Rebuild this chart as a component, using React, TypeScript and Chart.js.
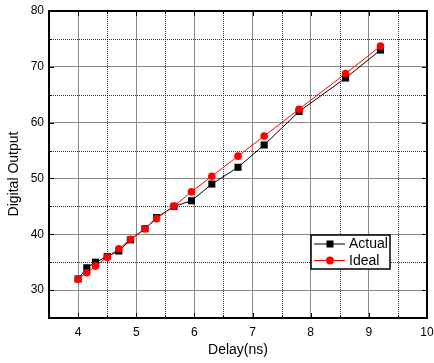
import React, { useEffect, useRef } from "react";
import { Chart, registerables } from "chart.js";

Chart.register(...registerables);

const delays = [4.0, 4.15, 4.3, 4.5, 4.7, 4.9, 5.15, 5.35, 5.65, 5.95, 6.3, 6.75, 7.2, 7.8, 8.6, 9.2];
const actual = [32, 34, 35, 36, 37, 39, 41, 43, 45, 46, 49, 52, 56, 62, 68, 73];
const ideal = [32, 33.1, 34.3, 35.9, 37.4, 39.1, 41.0, 42.8, 45.05, 47.6, 50.4, 54.0, 57.6, 62.4, 68.8, 73.7];

const xMajorTicks = [4, 5, 6, 7, 8, 9, 10];
const xMinorTicks = [4.5, 5.5, 6.5, 7.5, 8.5, 9.5];
const yMajorTicks = [30, 40, 50, 60, 70, 80];
const yMinorTicks = [35, 45, 55, 65, 75];

const xTitle = "Delay(ns)";
const yTitle = "Digital Output";
const seriesNames = ["Actual", "Ideal"];

const FONT = "'Liberation Sans', Arial, sans-serif";

const decorPlugin = {
  id: "decor",
  beforeDatasetsDraw(chart: any) {
    const { ctx, chartArea: a, scales } = chart;
    const xs = scales.x;
    const ys = scales.y;
    ctx.save();
    ctx.strokeStyle = "#333";
    ctx.lineWidth = 1;
    ctx.setLineDash([1, 1]);
    xMinorTicks.forEach((v) => {
      const px = Math.round(xs.getPixelForValue(v)) + 0.5;
      ctx.beginPath();
      ctx.moveTo(px, a.top);
      ctx.lineTo(px, a.bottom);
      ctx.stroke();
    });
    yMinorTicks.forEach((v) => {
      const py = Math.round(ys.getPixelForValue(v)) + 0.5;
      ctx.beginPath();
      ctx.moveTo(a.left, py);
      ctx.lineTo(a.right, py);
      ctx.stroke();
    });
    ctx.restore();
  },
  afterDraw(chart: any) {
    const { ctx, chartArea: a, scales } = chart;
    const xs = scales.x;
    const ys = scales.y;
    ctx.save();
    ctx.strokeStyle = "#000";
    ctx.lineWidth = 1;
    const tick = (vals: number[], len: number) => {
      vals.forEach((v) => {
        const px = Math.round(xs.getPixelForValue(v)) + 0.5;
        ctx.beginPath();
        ctx.moveTo(px, a.bottom);
        ctx.lineTo(px, a.bottom - len);
        ctx.moveTo(px, a.top);
        ctx.lineTo(px, a.top + len);
        ctx.stroke();
      });
    };
    const tickY = (vals: number[], len: number) => {
      vals.forEach((v) => {
        const py = Math.round(ys.getPixelForValue(v)) + 0.5;
        ctx.beginPath();
        ctx.moveTo(a.left, py);
        ctx.lineTo(a.left + len, py);
        ctx.moveTo(a.right, py);
        ctx.lineTo(a.right - len, py);
        ctx.stroke();
      });
    };
    tick(xMajorTicks, 5);
    tick(xMinorTicks, 3);
    tickY(yMajorTicks, 5);
    tickY(yMinorTicks, 3);
    ctx.lineWidth = 2;
    ctx.strokeRect(a.left, a.top, a.right - a.left, a.bottom - a.top);

    ctx.fillStyle = "#000";
    ctx.font = `14px ${FONT}`;
    ctx.textAlign = "center";
    ctx.textBaseline = "middle";
    ctx.translate(14, a.top + 163);
    ctx.rotate(-Math.PI / 2);
    ctx.fillText(yTitle, 0, 0);
    ctx.setTransform(1, 0, 0, 1, 0, 0);

    const lx = a.right - 116;
    const ly = a.top + 224;
    const lw = 79;
    const lh = 34;
    ctx.fillStyle = "#fff";
    ctx.fillRect(lx, ly, lw, lh);
    ctx.lineWidth = 1.5;
    ctx.strokeStyle = "#000";
    ctx.strokeRect(lx, ly, lw, lh);
    const ds = chart.data.datasets;
    const rows = [ds[0], ds[1]];
    rows.forEach((d: any, i: number) => {
      const cy = ly + 9 + i * 16.5;
      ctx.strokeStyle = d.borderColor;
      ctx.lineWidth = 1;
      ctx.beginPath();
      ctx.moveTo(lx + 3, cy);
      ctx.lineTo(lx + 34, cy);
      ctx.stroke();
      ctx.fillStyle = d.pointBackgroundColor;
      if (d.pointStyle === "rect") {
        ctx.fillRect(lx + 15.5, cy - 3.5, 7, 7);
      } else {
        ctx.beginPath();
        ctx.arc(lx + 19, cy, 4, 0, Math.PI * 2);
        ctx.fill();
      }
      ctx.fillStyle = "#000";
      ctx.font = `14px ${FONT}`;
      ctx.textAlign = "left";
      ctx.textBaseline = "middle";
      ctx.fillText(d.label, lx + 38, cy + 0.5);
    });
    ctx.restore();
  },
};

export default function App() {
  const ref = useRef<HTMLCanvasElement | null>(null);
  useEffect(() => {
    if (!ref.current) return;
    const chart = new Chart(ref.current, {
      type: "line",
      data: {
        datasets: [
          {
            label: seriesNames[0],
            data: delays.map((x, i) => ({ x, y: actual[i] })),
            borderColor: "#000",
            backgroundColor: "#000",
            pointBackgroundColor: "#000",
            pointBorderColor: "#000",
            pointStyle: "rect",
            pointRadius: 5,
            pointBorderWidth: 0,
            borderWidth: 1,
            order: 1,
          },
          {
            label: seriesNames[1],
            data: delays.map((x, i) => ({ x, y: ideal[i] })),
            borderColor: "#ff0000",
            backgroundColor: "#ff0000",
            pointBackgroundColor: "#ff0000",
            pointBorderColor: "#ff0000",
            pointStyle: "circle",
            pointRadius: 3.8,
            pointBorderWidth: 0,
            borderWidth: 1,
            order: 0,
          },
        ],
      },
      options: {
        animation: false,
        responsive: true,
        maintainAspectRatio: false,
        layout: { padding: { top: 11, right: 7, left: 0, bottom: 0 } },
        plugins: { legend: { display: false }, tooltip: { enabled: false } },
        scales: {
          x: {
            type: "linear",
            min: 3.5,
            max: 10,
            afterBuildTicks: (s: any) => {
              s.ticks = xMajorTicks.map((v) => ({ value: v }));
            },
            afterFit: (s: any) => {
              s.height = 45;
              s.paddingLeft = 0;
              s.paddingRight = 0;
            },
            grid: { color: "#888", lineWidth: 1, drawTicks: false },
            border: { display: false },
            ticks: {
              color: "#000",
              font: { family: FONT, size: 12 },
              padding: 7,
              maxRotation: 0,
              autoSkip: false,
            },
            title: {
              display: true,
              text: xTitle,
              color: "#000",
              font: { family: FONT, size: 14 },
              padding: { top: 0, bottom: 4 },
            },
          },
          y: {
            type: "linear",
            min: 25,
            max: 80,
            afterBuildTicks: (s: any) => {
              s.ticks = yMajorTicks.map((v) => ({ value: v }));
            },
            afterFit: (s: any) => {
              s.width = 49;
              s.paddingTop = 0;
              s.paddingBottom = 0;
            },
            grid: { color: "#888", lineWidth: 1, drawTicks: false },
            border: { display: false },
            ticks: {
              color: "#000",
              font: { family: FONT, size: 12 },
              padding: 5,
              autoSkip: false,
            },
          },
        },
      },
      plugins: [decorPlugin],
    });
    return () => chart.destroy();
  }, []);
  return (
    <div style={{ position: "absolute", left: 0, top: 0, width: 434, height: 363 }}>
      <canvas ref={ref} />
    </div>
  );
}
